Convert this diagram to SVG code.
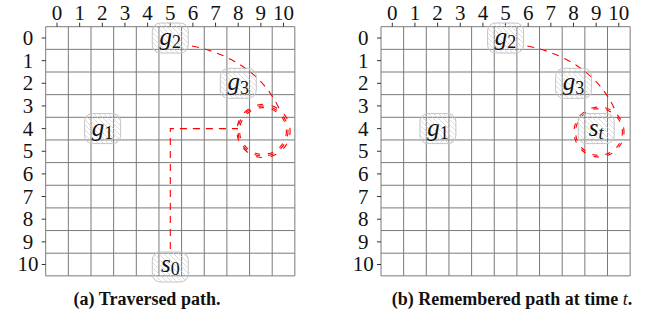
<svg xmlns="http://www.w3.org/2000/svg" width="646" height="322" viewBox="0 0 646 322">
<style>
.grid{stroke:#7a7a7a;stroke-width:1;fill:none}
.tick{stroke:#333;stroke-width:1}
.num{font-family:"Liberation Serif","DejaVu Serif",serif;font-size:21px;fill:#111;text-anchor:middle}
.box{fill:url(#hatch);stroke:#c4c4c4;stroke-width:1}
.lbl{font-family:"Liberation Serif","DejaVu Serif",serif;font-size:25px;fill:#111;text-anchor:middle}
.it{font-style:italic}
.sub{font-size:18px}
.path{fill:none;stroke:#ff0000;stroke-width:1.1;stroke-dasharray:7 6}
.loop{fill:none;stroke:#ff0000;stroke-width:1.1;stroke-dasharray:3.6 5.4}
.cap{font-family:"Liberation Serif","DejaVu Serif",serif;font-size:18px;font-weight:bold;fill:#111;text-anchor:middle}
</style>
<defs>
<pattern id="hatch" patternUnits="userSpaceOnUse" width="5" height="5">
<path d="M-1,-1 L6,6 M-1,4 L1,6 M4,-1 L6,1" stroke="#cfcfcf" stroke-width="0.7"/>
</pattern>
<g id="grid">
<path class="grid" d="M0,0 V249.15 M22.65,0 V249.15 M45.3,0 V249.15 M67.95,0 V249.15 M90.6,0 V249.15 M113.25,0 V249.15 M135.9,0 V249.15 M158.55,0 V249.15 M181.2,0 V249.15 M203.85,0 V249.15 M226.5,0 V249.15 M249.15,0 V249.15 M0,0 H249.15 M0,22.65 H249.15 M0,45.3 H249.15 M0,67.95 H249.15 M0,90.6 H249.15 M0,113.25 H249.15 M0,135.9 H249.15 M0,158.55 H249.15 M0,181.2 H249.15 M0,203.85 H249.15 M0,226.5 H249.15 M0,249.15 H249.15"/>
<path class="tick" d="M11.3,-4 V0 M33.95,-4 V0 M56.6,-4 V0 M79.25,-4 V0 M101.9,-4 V0 M124.55,-4 V0 M147.2,-4 V0 M169.85,-4 V0 M192.5,-4 V0 M215.15,-4 V0 M237.8,-4 V0 M-4,11.3 H0 M-4,33.95 H0 M-4,56.6 H0 M-4,79.25 H0 M-4,101.9 H0 M-4,124.55 H0 M-4,147.2 H0 M-4,169.85 H0 M-4,192.5 H0 M-4,215.15 H0 M-4,237.8 H0"/>
<g class="num">
<text x="11.3" y="-6.5">0</text><text x="33.95" y="-6.5">1</text><text x="56.6" y="-6.5">2</text><text x="79.25" y="-6.5">3</text><text x="101.9" y="-6.5">4</text><text x="124.55" y="-6.5">5</text><text x="147.2" y="-6.5">6</text><text x="169.85" y="-6.5">7</text><text x="192.5" y="-6.5">8</text><text x="215.15" y="-6.5">9</text><text x="237.8" y="-6.5">10</text>
<text x="-17.7" y="18.3">0</text><text x="-17.7" y="40.95">1</text><text x="-17.7" y="63.6">2</text><text x="-17.7" y="86.25">3</text><text x="-17.7" y="108.9">4</text><text x="-17.7" y="131.55">5</text><text x="-17.7" y="154.2">6</text><text x="-17.7" y="176.85">7</text><text x="-17.7" y="199.5">8</text><text x="-17.7" y="222.15">9</text><text x="-17.7" y="244.8">10</text>
</g>
</g>
</defs>
<use href="#grid" x="45.7" y="26.7"/>
<use href="#grid" x="381" y="26.7"/>

<g id="connectors">
<path class="path" d="M170.3,249 V128.6 H238"/>
<path class="path" d="M192,46 C232,54 266,76 281,113"/>
<circle class="loop" cx="263" cy="131" r="25" pathLength="100"/>
<circle class="loop" cx="263" cy="131" r="23.4" pathLength="100"/>
<circle class="loop" cx="263.5" cy="131" r="26.6" pathLength="100" style="stroke-dashoffset:1"/>
<path class="path" d="M527.3,46 C567.3,54 601.3,76 616.3,113"/>
<circle class="loop" cx="599" cy="132" r="25" pathLength="100" style="stroke-dashoffset:2"/>
<circle class="loop" cx="599" cy="132" r="23.4" pathLength="100" style="stroke-dashoffset:1"/>
</g>

<g id="g1-a"><rect class="box" x="84.6" y="113.6" width="36" height="30" rx="8"/><text class="lbl" x="102.6" y="135.5"><tspan class="it">g</tspan><tspan class="sub" dy="3.5">1</tspan></text></g>
<g id="g2-a"><rect class="box" x="152.3" y="23" width="36" height="30" rx="8"/><text class="lbl" x="170.3" y="44.9"><tspan class="it">g</tspan><tspan class="sub" dy="3.5">2</tspan></text></g>
<g id="g3-a"><rect class="box" x="220.3" y="68.3" width="36" height="30" rx="8"/><text class="lbl" x="238.3" y="90.2"><tspan class="it">g</tspan><tspan class="sub" dy="3.5">3</tspan></text></g>
<g id="s0-a"><rect class="box" x="152.3" y="252" width="36" height="30" rx="8"/><text class="lbl" x="170.3" y="271.5"><tspan class="it">s</tspan><tspan class="sub" dy="3.5">0</tspan></text></g>

<g id="g1-b"><rect class="box" x="419.9" y="113.6" width="36" height="30" rx="8"/><text class="lbl" x="437.9" y="135.5"><tspan class="it">g</tspan><tspan class="sub" dy="3.5">1</tspan></text></g>
<g id="g2-b"><rect class="box" x="487.6" y="23" width="36" height="30" rx="8"/><text class="lbl" x="505.6" y="44.9"><tspan class="it">g</tspan><tspan class="sub" dy="3.5">2</tspan></text></g>
<g id="g3-b"><rect class="box" x="555.6" y="68.3" width="36" height="30" rx="8"/><text class="lbl" x="573.6" y="90.2"><tspan class="it">g</tspan><tspan class="sub" dy="3.5">3</tspan></text></g>
<g id="st-b"><rect class="box" x="578.2" y="113.6" width="36" height="30" rx="8"/><text class="lbl" x="596.2" y="135.5"><tspan class="it">s</tspan><tspan class="sub it" dy="3.5">t</tspan></text></g>

<text class="cap" x="147" y="305">(a) Traversed path.</text>
<text class="cap" x="512" y="305">(b) Remembered path at time <tspan font-style="italic" font-weight="normal">t</tspan>.</text>
</svg>
